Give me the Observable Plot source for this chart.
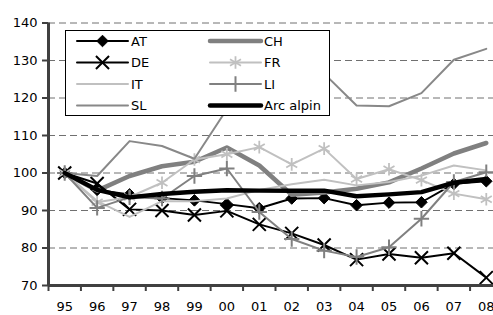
<!DOCTYPE html>
<html>
<head>
<meta charset="utf-8">
<script src="https://cdn.jsdelivr.net/npm/d3@7"></script>
<script src="https://cdn.jsdelivr.net/npm/@observablehq/plot@0.6"></script>
<style>
html, body { margin: 0; padding: 0; background: white; overflow: hidden; }
svg { max-width: none !important; }
</style>
</head>
<body>
<script>
// ---- data ----
const years = ["95","96","97","98","99","00","01","02","03","04","05","06","07","08"];
const AT  = [100, 95.5, 94.3, 93.3, 92.7, 91.7, 90.6, 93.2, 93.3, 91.4, 92.1, 92.2, 97.1, 97.8];
const CH  = [100, 95.3, 99.2, 101.8, 103.0, 106.8, 102.0, 94.2, 94.8, 95.8, 97.5, 101.2, 105.2, 108.0];
const DE  = [100, 97.2, 90.3, 90.0, 88.8, 89.9, 86.3, 83.9, 80.8, 76.9, 78.4, 77.4, 78.6, 72.1];
const FR  = [100, 92.2, 93.6, 97.4, 103.6, 105.0, 106.9, 102.3, 106.5, 98.4, 101.0, 98.1, 94.5, 93.0];
const IT  = [100, 92.5, 88.3, 92.5, 92.5, 93.2, 95.5, 97.0, 98.2, 96.7, 97.6, 99.3, 102.0, 100.7];
const LI  = [100, 90.7, 93.5, 93.2, 99.2, 101.2, 89.6, 82.4, 79.3, 77.6, 80.2, 87.8, 97.6, 100.2];
const SL  = [100, 99.2, 108.5, 107.2, 103.8, 117.0, 123.0, 128.0, 126.5, 118.0, 117.8, 121.3, 130.2, 133.1];
const ARC = [100, 95.5, 93.5, 94.4, 95.0, 95.4, 95.3, 95.3, 95.3, 93.8, 94.3, 94.9, 97.4, 98.4];
const yTicks = [70, 80, 90, 100, 110, 120, 130, 140];

// ---- styles (legend order: row-major, two columns) ----
const series = [
  {name: "AT",        values: AT,  stroke: "#000000", sw: 2,   symbol: "diamond2", r: 5.2, fill: "#000000", msw: 1},
  {name: "CH",        values: CH,  stroke: "#808080", sw: 4.5, symbol: null},
  {name: "DE",        values: DE,  stroke: "#000000", sw: 2,   symbol: "times",    r: 6,   fill: "none", msw: 2},
  {name: "FR",        values: FR,  stroke: "#c0c0c0", sw: 2,   symbol: "asterisk", r: 6,   fill: "none", msw: 1.8},
  {name: "IT",        values: IT,  stroke: "#c0c0c0", sw: 2,   symbol: null},
  {name: "LI",        values: LI,  stroke: "#808080", sw: 2,   symbol: "plus",     r: 5,   fill: "none", msw: 2},
  {name: "SL",        values: SL,  stroke: "#888888", sw: 2,   symbol: null},
  {name: "Arc alpin", values: ARC, stroke: "#000000", sw: 4.5, symbol: null}
];

const idx = years.map((_, i) => i);
const bounds = d3.range(years.length + 1).map(i => i - 0.5);
const xDomain = [bounds[0], bounds[bounds.length - 1]];

const marks = [
  Plot.ruleY(yTicks.slice(1), {stroke: "#707070", strokeWidth: 1, strokeDasharray: "7,4"})
];
for (const s of series) {
  const rows = s.values.map((v, i) => ({i, v}));
  marks.push(Plot.line(rows, {x: "i", y: "v", stroke: s.stroke, strokeWidth: s.sw, strokeLinejoin: "round"}));
  if (s.symbol) {
    marks.push(Plot.dot(rows, {x: "i", y: "v", symbol: s.symbol, r: s.r, fill: s.fill, stroke: s.stroke, strokeWidth: s.msw}));
  }
}
marks.push(
  Plot.ruleX([xDomain[0]], {stroke: "#404040", strokeWidth: 3}),
  Plot.ruleY([yTicks[0]], {stroke: "#404040", strokeWidth: 3}),
  Plot.axisY({ticks: yTicks, tickSize: 6, tickPadding: 5, stroke: "#404040", strokeWidth: 2, fill: "#000", label: null}),
  Plot.axisX({ticks: bounds, tickSize: 6, tickFormat: () => "", stroke: "#404040", strokeWidth: 2, label: null}),
  Plot.axisX({ticks: idx, tickSize: 0, tickPadding: 16, tickFormat: i => years[i], fill: "#000", label: null})
);

const chart = Plot.plot({
  width: 510,
  height: 315,
  marginLeft: 48,
  marginRight: 8,
  marginTop: 22.5,
  marginBottom: 30,
  x: {type: "linear", domain: xDomain, axis: null},
  y: {domain: [yTicks[0], yTicks[yTicks.length - 1]], axis: null},
  style: {fontFamily: "DejaVu Sans", fontSize: "13px", background: "white", color: "#000", maxWidth: "none"},
  marks
});
chart.style.maxWidth = "none";
document.body.appendChild(chart);

// ---- legend (inside the plot, white box) ----
const svg = d3.select(chart);
const lg = svg.append("g").attr("font-family", "DejaVu Sans").attr("font-size", "13px").attr("text-anchor", "start");
lg.append("rect").attr("x", 65.5).attr("y", 30.5).attr("width", 264).attr("height", 85)
  .attr("fill", "white").attr("stroke", "#000").attr("stroke-width", 1);
const symMap = {diamond2: d3.symbolDiamond2, times: d3.symbolTimes, asterisk: d3.symbolAsterisk, plus: d3.symbolPlus};
series.forEach((s, k) => {
  const col = k % 2, row = Math.floor(k / 2);
  const x0 = col === 0 ? 77 : 210;
  const x1 = x0 + 51;
  const y = 41 + row * 21.5;
  lg.append("line").attr("x1", x0).attr("x2", x1).attr("y1", y).attr("y2", y)
    .attr("stroke", s.stroke).attr("stroke-width", s.sw).attr("stroke-linecap", "round");
  if (s.symbol) {
    lg.append("path").attr("transform", `translate(${(x0 + x1) / 2},${y})`)
      .attr("d", d3.symbol(symMap[s.symbol], Math.PI * s.r * s.r)())
      .attr("fill", s.fill).attr("stroke", s.stroke).attr("stroke-width", s.msw);
  }
  lg.append("text").attr("x", x1 + 3).attr("y", y).attr("dy", "0.36em")
    .attr("text-anchor", "start").attr("fill", "#000").text(s.name);
});
</script>
</body>
</html>
